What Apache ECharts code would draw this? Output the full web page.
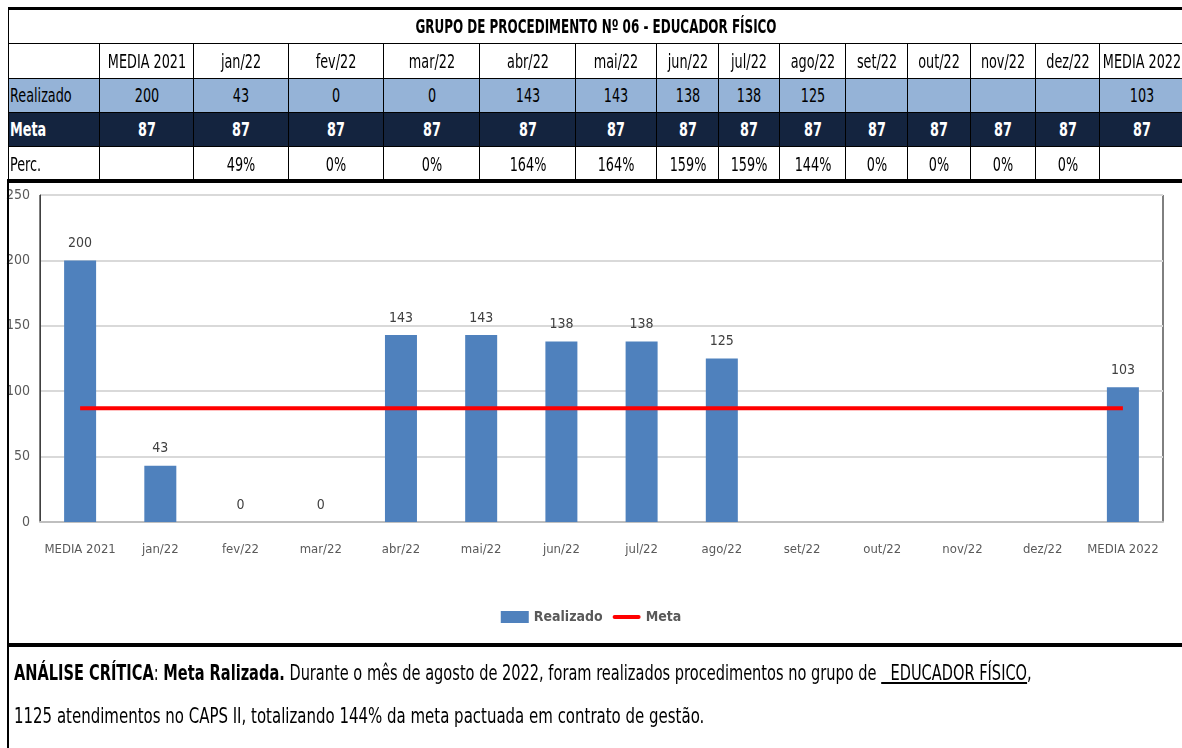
<!DOCTYPE html>
<html>
<head>
<meta charset="utf-8">
<script src="https://cdn.jsdelivr.net/npm/echarts@6/dist/echarts.min.js"></script>
<style>
  body { margin: 0; background: #fff; }
  #wrap { position: relative; width: 1182px; height: 748px; overflow: hidden;
          font-family: "DejaVu Sans Condensed", "Liberation Sans Narrow", sans-serif; }
  #chart { position: absolute; left: 0; top: 0; width: 1182px; height: 748px; }
  .cell { position: absolute; box-sizing: border-box; border: 1px solid #000; font-size: 19px;
          color: #000; white-space: nowrap; overflow: hidden; }
  .cell span { position: absolute; top: 0; left: 50%; transform: translateX(-50%) scaleX(0.75); }
  .cell.esq span { left: 1px; transform: scaleX(0.75); transform-origin: left center; }
  .line { position: absolute; background: #000; }
  .nota { position: absolute; left: 14px; font-size: 21px; color: #000; white-space: nowrap;
          transform-origin: left center; }
</style>
</head>
<body>
<div id="wrap">
  <div id="chart"></div>
  <div id="tabela"></div>
  <div class="line" style="left:7px;top:181px;width:2px;height:567px"></div>
  <div class="line" style="left:7px;top:643px;width:1175px;height:4px"></div>
  <div class="nota" id="nota1" style="top:661px" data-w="1018"><b>ANÁLISE CRÍTICA</b>: <b>Meta Ralizada.</b> Durante o mês de agosto de 2022, foram realizados procedimentos no grupo de <u>&nbsp;&nbsp;EDUCADOR FÍSICO</u>,</div>
  <div class="nota" id="nota2" style="top:704px" data-w="690">1125 atendimentos no CAPS II, totalizando 144% da meta pactuada em contrato de gestão.</div>
</div>
<script>
// dados
const titulo = 'GRUPO DE PROCEDIMENTO Nº 06 - EDUCADOR FÍSICO';
const categories = ['MEDIA 2021', 'jan/22', 'fev/22', 'mar/22', 'abr/22', 'mai/22', 'jun/22',
  'jul/22', 'ago/22', 'set/22', 'out/22', 'nov/22', 'dez/22', 'MEDIA 2022'];
const realizado = [200, 43, 0, 0, 143, 143, 138, 138, 125, null, null, null, null, 103];
const meta = [87, 87, 87, 87, 87, 87, 87, 87, 87, 87, 87, 87, 87, 87];
const perc = ['', '49%', '0%', '0%', '164%', '164%', '159%', '159%', '144%', '0%', '0%', '0%', '0%', ''];

// tabela (bordas das colunas e linhas)
const colX = [8, 99, 193, 288, 383, 479, 575, 656, 718, 779, 845, 907, 970, 1035, 1099, 1183];
const rowY = [43, 78, 112, 146, 181];

function addCell(parent, x, y, w, h, text, style, cls) {
  const d = document.createElement('div');
  d.className = 'cell' + (cls ? ' ' + cls : '');
  d.style.left = x + 'px';
  d.style.top = y + 'px';
  d.style.width = (w + 1) + 'px';
  d.style.height = (h + 1) + 'px';
  d.style.lineHeight = (h - 1) + 'px';
  Object.assign(d.style, style || {});
  const s = document.createElement('span');
  s.textContent = text;
  d.appendChild(s);
  parent.appendChild(d);
  return s;
}

const tab = document.getElementById('tabela');
// titulo
const st = addCell(tab, 8, 7, 1175, 36, titulo,
  { fontWeight: 'bold', fontSize: '19px', borderTop: '3px solid #000', lineHeight: '33px' });
st.style.transform = 'translateX(-50%) scaleX(0.70)';

const linhas = [
  { label: '', values: categories, style: {} },
  { label: 'Realizado', values: realizado.map(v => v === null ? '' : v), style: { background: '#95B3D7' } },
  { label: 'Meta', values: meta, style: { background: '#14243F', color: '#fff', fontWeight: 'bold' } },
  { label: 'Perc.', values: perc, style: {} }
];

linhas.forEach((ln, r) => {
  const y = rowY[r];
  const h = rowY[r + 1] - y;
  addCell(tab, colX[0], y, colX[1] - colX[0], h, ln.label, ln.style, 'esq');
  ln.values.forEach((v, i) => {
    addCell(tab, colX[i + 1], y, colX[i + 2] - colX[i + 1], h, String(v), ln.style);
  });
});
// linha grossa abaixo da tabela
const lb = document.createElement('div');
lb.className = 'line';
Object.assign(lb.style, { left: '7px', top: '179px', width: '1175px', height: '4px' });
tab.appendChild(lb);

// texto da analise: encaixa na largura
document.querySelectorAll('.nota').forEach(el => {
  const alvo = Number(el.dataset.w);
  el.style.transform = 'scaleX(' + (alvo / el.offsetWidth) + ')';
});

// grafico
const fonte = '"DejaVu Sans Condensed", sans-serif';
const chart = echarts.init(document.getElementById('chart'), null, { renderer: 'canvas' });

const option = {
  animation: false,
  textStyle: { fontFamily: fonte },
  grid: {
    left: 40,
    top: 195,
    width: 1123,
    height: 327,
    show: true,
    borderColor: '#000',
    borderWidth: 1
  },
  legend: {
    top: 605,
    left: 'center',
    itemWidth: 28,
    itemHeight: 12,
    itemGap: 10,
    textStyle: { fontWeight: 'bold', fontSize: 14, color: '#595959', fontFamily: fonte },
    data: [
      { name: 'Realizado', icon: 'rect' },
      { name: 'Meta', icon: 'path://M2,0 L26,0 A2,2 0 0 1 26,4 L2,4 A2,2 0 0 1 2,0 Z' }
    ]
  },
  xAxis: {
    type: 'category',
    data: categories,
    axisTick: { show: false },
    axisLine: { lineStyle: { color: '#BFBFBF', width: 2 } },
    axisLabel: { color: '#595959', fontSize: 13, margin: 21, interval: 0, fontFamily: fonte }
  },
  yAxis: {
    type: 'value',
    min: 0,
    max: 250,
    interval: 50,
    axisLine: { show: true, lineStyle: { color: '#404040' } },
    axisLabel: { color: '#595959', fontSize: 14, margin: 10, fontFamily: fonte },
    splitLine: { lineStyle: { color: '#D9D9D9', width: 2 } }
  },
  series: [
    {
      name: 'Realizado',
      type: 'bar',
      data: realizado,
      barWidth: 32,
      itemStyle: { color: '#4F81BD' },
      label: {
        show: true,
        position: 'top',
        distance: 10,
        color: '#404040',
        fontSize: 14,
        fontFamily: fonte
      }
    },
    {
      name: 'Meta',
      type: 'line',
      data: meta,
      symbol: 'none',
      z: 5,
      lineStyle: { color: '#FF0000', width: 4 },
      itemStyle: { color: '#FF0000' }
    }
  ]
};

chart.setOption(option);
</script>
</body>
</html>
